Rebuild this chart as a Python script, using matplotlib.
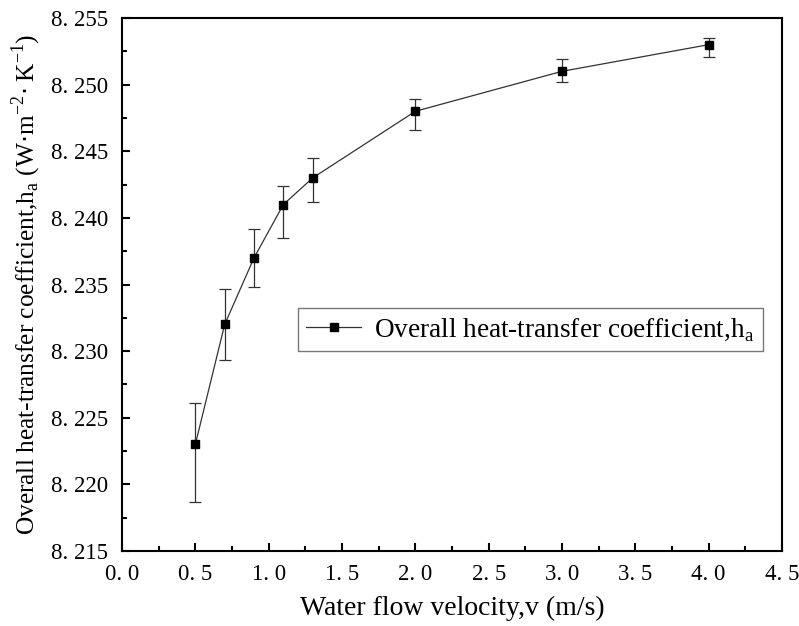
import matplotlib
matplotlib.use("Agg")
import matplotlib.pyplot as plt
from matplotlib.ticker import FuncFormatter, MultipleLocator
import numpy as np

velocity = [0.5, 0.7, 0.9, 1.1, 1.3, 2.0, 3.0, 4.0]
h_a = [8.223, 8.232, 8.237, 8.241, 8.243, 8.248, 8.251, 8.253]
err_upper = [8.2261, 8.2347, 8.2392, 8.2424, 8.2445, 8.2489, 8.2519, 8.2535]
err_lower = [8.2187, 8.2293, 8.2348, 8.2385, 8.2412, 8.2466, 8.2502, 8.2521]

x_ticks = [0.0, 0.5, 1.0, 1.5, 2.0, 2.5, 3.0, 3.5, 4.0, 4.5]
y_ticks = [8.215, 8.220, 8.225, 8.230, 8.235, 8.240, 8.245, 8.250, 8.255]

serif = ["Liberation Serif", "DejaVu Serif"]

fig = plt.figure(figsize=(7.99, 6.26), dpi=100)
ax = fig.add_axes([0.1527, 0.1198, 0.826, 0.8514])

y = np.array(h_a)
yerr = np.array([y - np.array(err_lower), np.array(err_upper) - y])

ax.errorbar(velocity, h_a, yerr=yerr, fmt='none', ecolor='#333333',
            elinewidth=0.9, capsize=4.5, capthick=0.9, zorder=2)
ax.plot(velocity, h_a, color='#333333', lw=0.9, marker='s', ms=6,
        mfc='black', mec='black', zorder=3,
        label="Overall heat-transfer coefficient,h$_\\mathregular{a}$")

ax.set_xlim(0, 4.5)
ax.set_ylim(8.215, 8.255)
ax.set_xticks(x_ticks)
ax.set_yticks(y_ticks)
ax.xaxis.set_minor_locator(MultipleLocator(0.25))
ax.yaxis.set_minor_locator(MultipleLocator(0.0025))
ax.xaxis.set_major_formatter(FuncFormatter(lambda v, p: f"{v:.1f}".replace('.', '. ')))
ax.yaxis.set_major_formatter(FuncFormatter(lambda v, p: f"{v:.3f}".replace('.', '. ')))

ax.tick_params(which='both', direction='in', top=False, right=False, width=1.5)
ax.tick_params(which='major', length=6, labelsize=16.5)
ax.tick_params(axis='x', which='major', pad=9)
ax.tick_params(axis='y', which='major', pad=10)
ax.tick_params(which='minor', length=3.5)
for lab in ax.get_xticklabels() + ax.get_yticklabels():
    lab.set_family(serif)
for s in ax.spines.values():
    s.set_linewidth(1.5)

ax.set_xlabel("Water flow velocity,v (m/s)", fontsize=20, family=serif, labelpad=8)
ax.set_ylabel("Overall heat-transfer coefficient,h$_\\mathregular{a}$ (W$\\cdot$m$^\\mathregular{-2}\\!\\cdot$K$^\\mathregular{-1}$)",
              fontsize=18.3, family=serif, labelpad=6)

leg = ax.legend(loc='center left', bbox_to_anchor=(0.267, 0.415),
                prop={'family': serif, 'size': 19.6}, frameon=True, fancybox=False,
                edgecolor='#555555', handlelength=2.0, borderpad=0.3,
                handletextpad=0.5, borderaxespad=0)
leg.get_frame().set_linewidth(1.0)

fig.savefig("out.png", dpi=100)
